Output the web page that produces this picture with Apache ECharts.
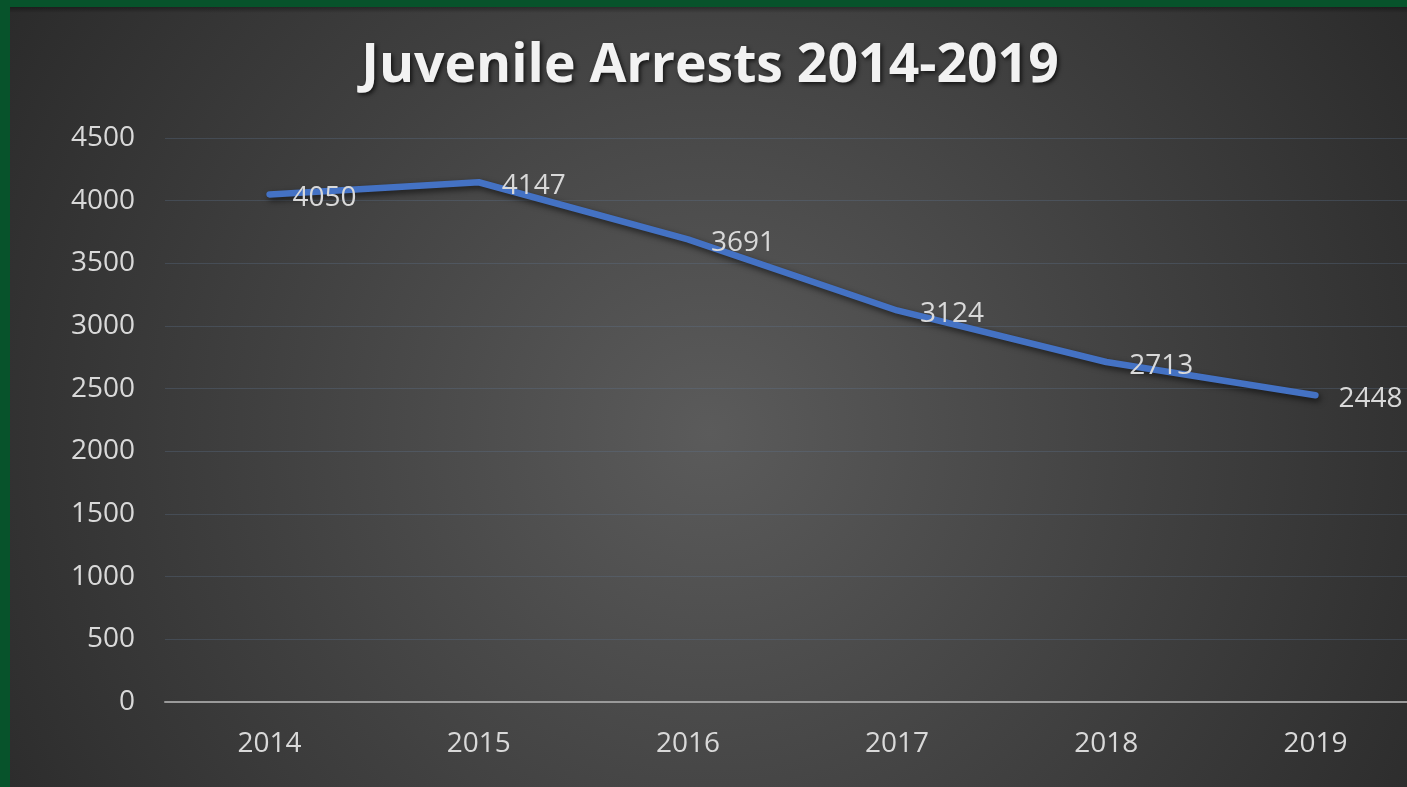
<!DOCTYPE html>
<html><head><meta charset="utf-8">
<script src="https://cdn.jsdelivr.net/npm/echarts@6/dist/echarts.min.js"></script>
<style>html,body{margin:0;padding:0;background:#07532B;overflow:hidden;}#c{width:1420px;height:787px;}</style>
</head><body><div id="c"></div>
<script>
const years = ['2014','2015','2016','2017','2018','2019'];
const arrests = [4050, 4147, 3691, 3124, 2713, 2448];
const yTicks = {min: 0, max: 4500, interval: 500};
const titleText = 'Juvenile Arrests 2014-2019';

const chart = echarts.init(document.getElementById('c'));
chart.setOption({
  backgroundColor: {type:'radial', x:0.5, y:0.55, r:1.15, colorStops:[
    {offset:0, color:'#5b5b5b'}, {offset:0.5, color:'#404040'}, {offset:1, color:'#262626'}]},
  animation: false,
  graphic: [
    {type:'rect', left:0, top:0, shape:{width:1420, height:7}, style:{fill:'#07532B'}, z:100},
    {type:'rect', left:0, top:0, shape:{width:10, height:787}, style:{fill:'#07532B'}, z:100},
    {type:'rect', left:10, top:7, shape:{width:1410, height:6}, style:{fill:{type:'linear',x:0,y:0,x2:0,y2:1,colorStops:[{offset:0,color:'rgba(0,0,0,0.35)'},{offset:1,color:'rgba(0,0,0,0)'}]}}, z:99}
  ],
  title: {
    text: titleText, left: 'center', top: 35,
    textStyle: {color:'#f2f2f2', fontFamily:'Open Sans', fontWeight:'bold', fontSize:53.5,
      textShadowColor:'rgba(0,0,0,0.7)', textShadowBlur:4, textShadowOffsetX:2, textShadowOffsetY:2}
  },
  grid: {left:165, right:0, top:138, bottom:85, containLabel:false},
  xAxis: {
    type:'category', data: years, boundaryGap:true,
    axisLine:{lineStyle:{color:'#9a9a9a', width:2}},
    axisTick:{show:false},
    axisLabel:{color:'#d9d9d9', fontFamily:'Open Sans', fontSize:28, margin:28}
  },
  yAxis: {
    type:'value', min: yTicks.min, max: yTicks.max, interval: yTicks.interval,
    axisLine:{show:false}, axisTick:{show:false},
    splitLine:{lineStyle:{color:'rgba(95,120,150,0.3)', width:1}},
    axisLabel:{color:'#d9d9d9', fontFamily:'Open Sans', fontSize:28, margin:30,
      formatter: v => String(v)}
  },
  series: [{
    type:'line', data: arrests, symbol:'circle', symbolSize:2, showSymbol:true,
    lineStyle:{color:'#4472C4', width:6.5, cap:'round', join:'round',
      shadowColor:'rgba(0,0,0,0.6)', shadowBlur:6, shadowOffsetX:2, shadowOffsetY:3},
    label:{show:true, position:'right', distance:22, offset:[0,4], color:'#d9d9d9', fontFamily:'Open Sans', fontSize:28},
    itemStyle:{color:'#4472C4', borderWidth:0}
  }]
});
</script></body></html>
